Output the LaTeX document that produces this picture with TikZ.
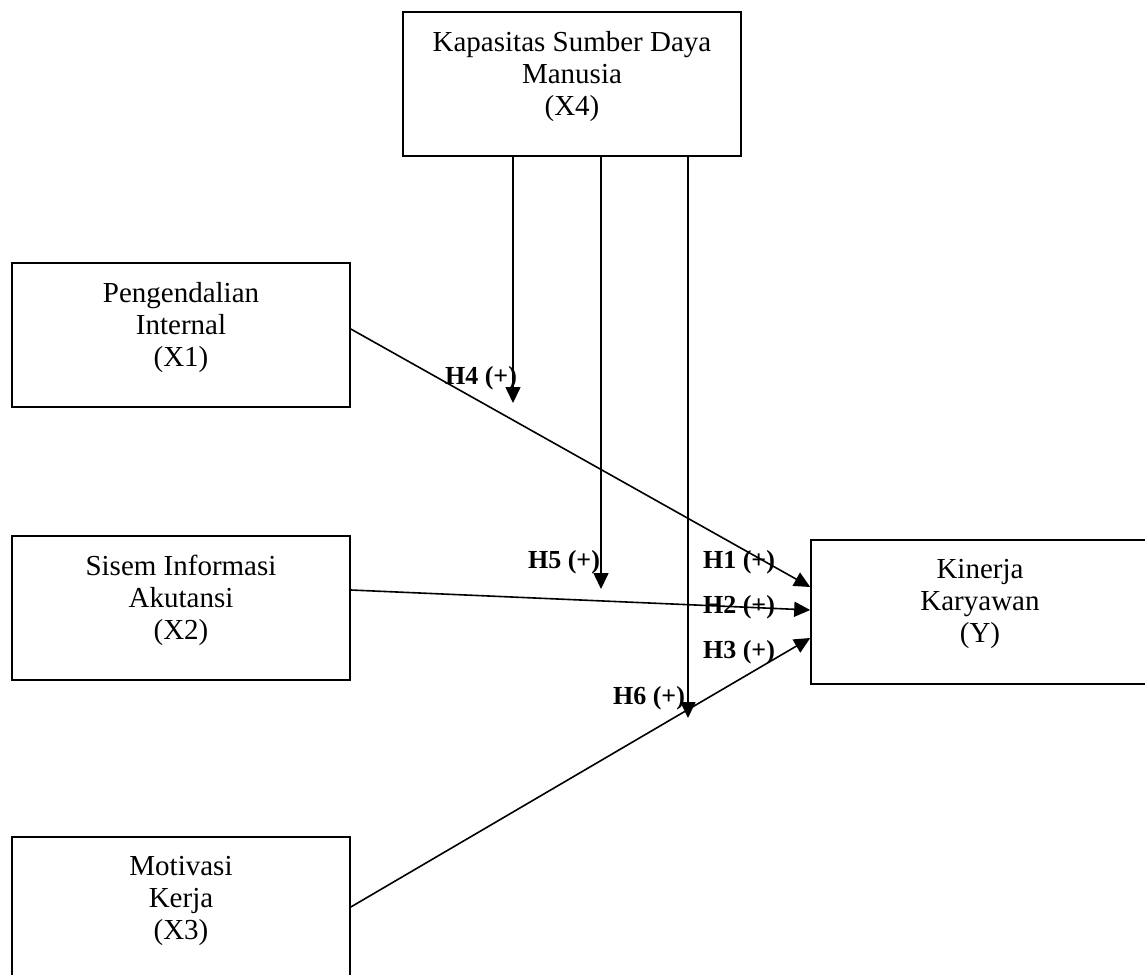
\documentclass[tikz,border=0pt]{standalone}
\usepackage{fontspec}
\setmainfont{Liberation Serif}
\usetikzlibrary{arrows.meta}

\tikzset{
  varbox/.style={draw, line width=0.8pt, minimum width=169pt, minimum height=72pt,
    align=center, text depth=11pt, font=\fontsize{14.5}{16}\selectfont},
  hyplabel/.style={inner sep=0pt, font=\fontsize{13}{15}\selectfont\bfseries},
  hyparrow/.style={line width=0.8pt, -{Triangle[length=8pt,width=7.5pt]}}
}

\begin{document}
\begin{tikzpicture}[x=0.5pt, y=-0.5pt]
  \useasboundingbox (0,0) rectangle (1145,974);
  \clip (0,0) rectangle (1145,974);
  \fill[white] (0,0) rectangle (1145,974);

  % variables
  \node[varbox] (x4) at (572,84) {Kapasitas Sumber Daya\\Manusia\\(X4)};
  \node[varbox] (x1) at (181,335) {Pengendalian\\Internal\\(X1)};
  \node[varbox] (x2) at (181,608) {Sisem Informasi\\Akutansi\\(X2)};
  \node[varbox] (x3) at (181,909) {Motivasi\\Kerja\\(X3)};
  \node[varbox] (y) at (980,612) {Kinerja\\Karyawan\\(Y)};

  % moderating arrows from X4
  \coordinate (h4end) at (513,403);
  \coordinate (h5end) at (601,589);
  \coordinate (h6end) at (688,718);
  \draw[hyparrow] ([xshift=-29.5pt]x4.south) -- (h4end);
  \draw[hyparrow] ([xshift=14.5pt]x4.south) -- (h5end);
  \draw[hyparrow] ([xshift=58pt]x4.south) -- (h6end);

  % direct effects
  \draw[hyparrow] ([yshift=3pt]x1.east) -- ([yshift=12.5pt]y.west);
  \draw[hyparrow] ([yshift=9pt]x2.east) -- ([yshift=1pt]y.west);
  \draw[hyparrow] ([yshift=1pt]x3.east) -- ([yshift=-13pt]y.west);

  % hypothesis labels
  \node[hyplabel] (h4) at (481,378) {H4 (+)};
  \node[hyplabel] (h5) at (564,562) {H5 (+)};
  \node[hyplabel] (h1) at (739,562) {H1 (+)};
  \node[hyplabel] (h2) at (739,607) {H2 (+)};
  \node[hyplabel] (h3) at (739,652) {H3 (+)};
  \node[hyplabel] (h6) at (649,698) {H6 (+)};
\end{tikzpicture}
\end{document}
